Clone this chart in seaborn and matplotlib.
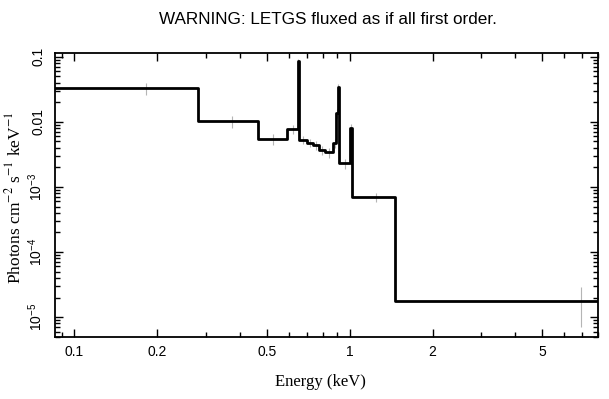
import numpy as np
import pandas as pd
import seaborn as sns
import matplotlib.pyplot as plt
from matplotlib.ticker import FixedLocator, FixedFormatter, NullFormatter

#///// Data (bin edges in keV, flux per bin)
bin_edges = [0.082, 0.282, 0.463, 0.594, 0.647, 0.652, 0.697, 0.738, 0.777, 0.816,
             0.869, 0.894, 0.904, 0.913, 1.004, 1.022, 1.467, 12.4]
flux = [0.0325, 0.0102, 0.0055, 0.0077, 0.085, 0.0053, 0.0048, 0.0044, 0.0037,
        0.0034, 0.0047, 0.0135, 0.034, 0.0023, 0.0081, 0.0007, 1.8e-5]
flux_err = [0.0065, 0.0022, 0.0011, 0.0012, 0.006, 0.0008, 0.0007, 0.0007, 0.0006,
            0.0006, 0.0008, 0.002, 0.004, 0.0004, 0.0012, 0.00012, 1.1e-5]

x_major = [0.1, 0.2, 0.5, 1, 2, 5]
x_major_labels = ['0.1', '0.2', '0.5', '1', '2', '5']
x_minor = [0.09, 0.3, 0.4, 0.6, 0.7, 0.8, 0.9, 3, 4, 6, 7, 8]
y_major = [1e-5, 1e-4, 1e-3, 1e-2, 1e-1]
y_major_labels = [r'$10^{-5}$', r'$10^{-4}$', r'$10^{-3}$', '0.01', '0.1']

#///// Style
sns.set_theme(style='ticks')
plt.rcParams['font.family'] = ['Liberation Sans', 'DejaVu Sans']
plt.rcParams['mathtext.fontset'] = 'custom'
plt.rcParams['mathtext.rm'] = 'Liberation Sans'
plt.rcParams['mathtext.it'] = 'Liberation Sans:italic'

#///// Figure
fig = plt.figure(figsize=(6.09, 3.99), dpi=100)
ax = fig.add_axes([0.0903, 0.156, 0.892, 0.71])

# Step line: repeat the last value so the final bin closes at its right edge
step_df = pd.DataFrame({'energy': bin_edges, 'flux': flux + [flux[-1]]})
sns.lineplot(data=step_df, x='energy', y='flux', drawstyle='steps-post',
             estimator=None, color='black', linewidth=2.0, ax=ax)

# Grey error bars at the bin centres
centres = [(a + b) / 2 for a, b in zip(bin_edges[:-1], bin_edges[1:])]
ax.errorbar(centres, flux, yerr=flux_err, fmt='none', ecolor='#b5b5b5',
            elinewidth=0.8, capsize=0, zorder=1)

ax.set_xscale('log')
ax.set_yscale('log')
ax.set_xlim(0.085, 8.0)
ax.set_ylim(5e-6, 0.112)

# x-axis
ax.xaxis.set_major_locator(FixedLocator(x_major))
ax.xaxis.set_major_formatter(FixedFormatter(x_major_labels))
ax.xaxis.set_minor_locator(FixedLocator(x_minor))
ax.xaxis.set_minor_formatter(NullFormatter())
# y-axis
ax.yaxis.set_major_locator(FixedLocator(y_major))
ax.yaxis.set_major_formatter(FixedFormatter(y_major_labels))
ax.yaxis.set_minor_locator(FixedLocator(
    [m * d for d in [1e-6, 1e-5, 1e-4, 1e-3, 1e-2, 1e-1] for m in range(2, 10)]))
ax.yaxis.set_minor_formatter(NullFormatter())

ax.tick_params(which='both', direction='in', top=True, right=True, colors='black',
               labelsize=10)
ax.tick_params(which='major', length=6, width=1.0)
ax.tick_params(which='minor', length=3.5, width=1.0)
ax.tick_params(axis='x', pad=6)
ax.tick_params(axis='y', pad=7, labelrotation=90)
for lbl in ax.get_yticklabels():
    lbl.set_va('center')

for s in ax.spines.values():
    s.set_linewidth(1.3)
    s.set_color('black')

ax.set_xlabel('Energy (keV)', family='Liberation Serif', fontsize=12, color='black')
ax.set_ylabel(r'Photons cm$^{-2}$ s$^{-1}$ keV$^{-1}$', family='Liberation Serif',
              fontsize=12.5, color='black', math_fontfamily='stix')
ax.xaxis.set_label_coords(0.488, -0.131)
ax.yaxis.set_label_coords(-0.056, 0.49)

fig.text(0.538, 0.951, 'WARNING: LETGS fluxed as if all first order.',
         ha='center', va='center', fontsize=12.3, color='black')

fig.savefig('out.png', dpi=100)
